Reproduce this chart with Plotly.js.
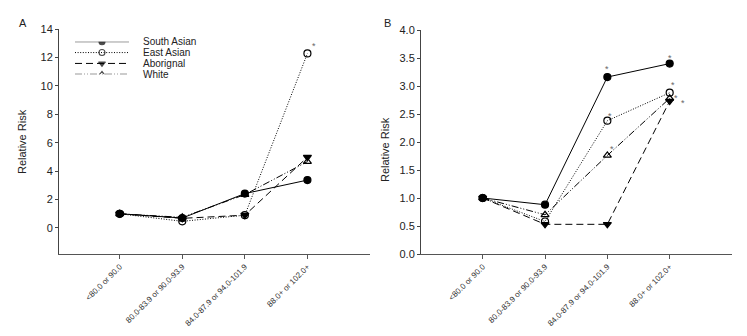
<!DOCTYPE html>
<html><head><meta charset="utf-8">
<script src="https://cdn.plot.ly/plotly-3.0.1.min.js"></script>
<style>html,body{margin:0;padding:0;background:#fff}</style>
</head><body><div id="chart" style="width:747px;height:336px"></div>
<script>
const categories = ["<80.0 or 90.0", "80.0-83.9 or 90.0-93.9", "84.0-87.9 or 94.0-101.9", "88.0+ or 102.0+"];
const seriesNames = ["South Asian", "East Asian", "Aborignal", "White"];

// Panel A
const southAsianA = [1.0, 0.7, 2.42, 3.37];
const eastAsianA  = [1.0, 0.47, 0.9, 12.28];
const aboriginalA = [1.0, 0.68, 0.9, 4.98];
const whiteA      = [1.0, 0.75, 2.35, 4.67];
const sigA = [["", "", "", ""], ["", "", "", "*"], ["", "", "", ""], ["", "", "", ""]];

// Panel B
const southAsianB = [1.0, 0.88, 3.16, 3.40];
const eastAsianB  = [1.0, 0.58, 2.38, 2.88];
const aboriginalB = [1.0, 0.53, 0.53, 2.73];
const whiteB      = [1.0, 0.70, 1.76, 2.78];
const sigB = [["", "", "*", "*"], ["", "", "*", "*"], ["", "", "", "*"], ["", "", "*", "*"]];

const yTicksA = [0, 2, 4, 6, 8, 10, 12, 14];
const yTicksB = [0, 0.5, 1.0, 1.5, 2.0, 2.5, 3.0, 3.5, 4.0];
const yTickTextB = ["0.0", "0.5", "1.0", "1.5", "2.0", "2.5", "3.0", "3.5", "4.0"];

const styles = [
  {dash: "solid", symbol: "circle"},
  {dash: "1px,1.6px", symbol: "circle-open"},
  {dash: "7px,4px", symbol: "triangle-down"},
  {dash: "7px,2px,1px,2px,1px,2px", symbol: "triangle-up-open"}
];
// pixel offsets of the significance marks [xshift, yshift] per series and category
const sigOffsetA = [[[0,8],[0,8],[0,8],[0,8]], [[7,7],[7,7],[7,7],[7,7]], [[0,8],[0,8],[0,8],[0,8]], [[0,8],[0,8],[0,8],[0,8]]];
const sigOffsetB = [[[0,8],[0,8],[0,8],[0,6]], [[3,5],[3,5],[3,5],[3,8]], [[6,0],[6,0],[6,0],[13,-2]], [[5,6],[5,6],[5,6],[6,0]]];

const FONT = "Liberation Sans, Arial, sans-serif";
const xIdx = categories.map((c, i) => i);

function lineTrace(y, k, xa, ya) {
  const s = styles[k];
  return {
    x: xIdx, y: y, xaxis: xa, yaxis: ya, mode: "lines+markers", showlegend: false,
    name: seriesNames[k], hoverinfo: "skip",
    line: {color: "#000", width: 1, dash: s.dash},
    marker: {symbol: s.symbol, size: 7, color: "#000", line: {color: "#000", width: 1.2}}
  };
}

const dataA = [southAsianA, eastAsianA, aboriginalA, whiteA];
const dataB = [southAsianB, eastAsianB, aboriginalB, whiteB];

const traces = [];
[3, 2, 1, 0].forEach(k => {
  traces.push(lineTrace(dataA[k], k, "x", "y"));
  traces.push(lineTrace(dataB[k], k, "x2", "y2"));
});
// legend samples on a hidden axis
seriesNames.forEach((n, k) => {
  const s = styles[k];
  traces.push({
    x: [0, 1, 2], y: [k, k, k], xaxis: "x3", yaxis: "y3", mode: "lines+markers",
    showlegend: false, hoverinfo: "skip",
    line: {color: "#000", width: 1, dash: s.dash},
    marker: {symbol: s.symbol, size: [0, 6, 0], color: "#000", line: {color: "#000", width: 1.1}}
  });
});

const W = 747, H = 336;
const px = v => v / W, py = v => 1 - v / H;

const xCommon = {
  tickvals: xIdx, ticktext: categories, tickangle: -45,
  showline: true, linecolor: "#555", linewidth: 1, ticks: "outside", ticklen: 4, tickcolor: "#555",
  showgrid: false, zeroline: false, tickfont: {size: 8, color: "#333", family: FONT}, fixedrange: true
};
const yCommon = {
  showline: true, linecolor: "#444", linewidth: 1, ticks: "outside", ticklen: 3, tickcolor: "#444",
  showgrid: false, zeroline: false, tickfont: {size: 11, color: "#222", family: FONT}, fixedrange: true
};

const ann = (text, x, y, extra) => Object.assign({
  text: text, x: px(x), y: py(y), xref: "paper", yref: "paper", xanchor: "center", yanchor: "middle",
  showarrow: false, font: {size: 11, family: FONT, color: "#222"}
}, extra || {});
const annotations = [
  ann("A", 23, 23),
  ann("B", 387, 23),
  ann("Relative Risk", 22, 142, {textangle: -90}),
  ann("Relative Risk", 385, 150, {textangle: -90})
];
seriesNames.forEach((n, k) => annotations.push({
  text: n, x: px(141), y: k, xref: "paper", yref: "y3", xanchor: "left", yanchor: "middle", showarrow: false,
  font: {size: 10, family: FONT, color: "#222"}
}));
// significance asterisks, anchored at the data points
function addSig(data, sig, offs, xr, yr) {
  data.forEach((vals, k) => vals.forEach((v, i) => {
    if (!sig[k][i]) return;
    annotations.push({
      text: sig[k][i], x: i, y: v, xref: xr, yref: yr, xanchor: "center", yanchor: "middle",
      xshift: offs[k][i][0], yshift: offs[k][i][1], showarrow: false, borderpad: 0,
      font: {size: 9, family: FONT, color: "#666"}
    });
  }));
}
addSig(dataA, sigA, sigOffsetA, "x", "y");
addSig(dataB, sigB, sigOffsetB, "x2", "y2");

const layout = {
  width: W, height: H, margin: {l: 0, r: 0, t: 0, b: 0},
  paper_bgcolor: "#fff", plot_bgcolor: "rgba(0,0,0,0)", showlegend: false,
  xaxis: Object.assign({}, xCommon, {domain: [px(59), px(370)], range: [-0.97, 4.0], anchor: "y"}),
  yaxis: Object.assign({}, yCommon, {domain: [py(254), py(29)], range: [-1.83, 14], tickvals: yTicksA, anchor: "x"}),
  xaxis2: Object.assign({}, xCommon, {domain: [px(421), px(732)], range: [-0.99, 4.0], anchor: "y2"}),
  yaxis2: Object.assign({}, yCommon, {domain: [py(254), py(30)], range: [0, 4], tickvals: yTicksB, ticktext: yTickTextB, anchor: "x2"}),
  xaxis3: {domain: [px(75), px(129)], range: [0, 2], visible: false, anchor: "y3", fixedrange: true},
  yaxis3: {domain: [py(74.3), py(41.7)], range: [3, 0], visible: false, anchor: "x3", fixedrange: true},
  annotations: annotations
};
Plotly.newPlot("chart", traces, layout, {displayModeBar: false, staticPlot: true});
</script></body></html>
